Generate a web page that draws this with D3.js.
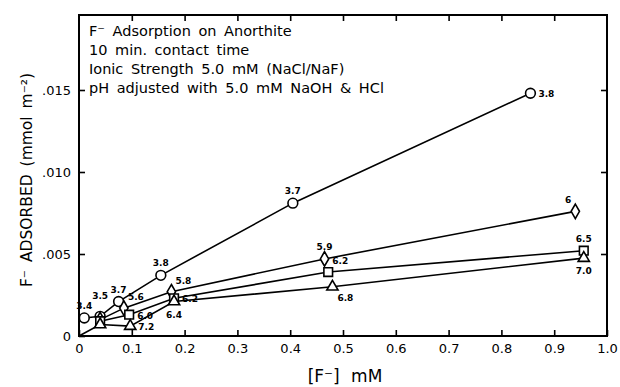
<!DOCTYPE html>
<html><head><meta charset="utf-8">
<script src="https://cdn.jsdelivr.net/npm/d3@7"></script>
<style>
body{margin:0;background:#fff;}
svg{display:block;font-family:"DejaVu Sans",Arial,sans-serif;}
</style></head>
<body><svg id="c" width="620" height="387"></svg>
<script>
// ---- data ----
const xTicks = [0,0.1,0.2,0.3,0.4,0.5,0.6,0.7,0.8,0.9,1.0];
const xTickLabels = ["0","0.1","0.2","0.3","0.4","0.5","0.6","0.7","0.8","0.9","1.0"];
const yTicks = [0,0.005,0.010,0.015];
const yTickLabels = ["0",".005",".010",".015"];

const circleX = [0.01,0.04,0.075,0.155,0.405,0.855];
const circleY = [0.0011,0.0012,0.0021,0.0037,0.0081,0.0148];
const circleLabels = ["3.4","3.5","3.7","3.8","3.7","3.8"];
const circlePos = ["n","nn","n","n","n","e"];
const circleMarked = [true,true,true,true,true,true];

const diamondX = [0.04,0.085,0.175,0.465,0.94];
const diamondY = [0.0010,0.0017,0.0027,0.0047,0.0076];
const diamondLabels = ["","5.6","5.8","5.9","6"];
const diamondPos = ["n","ne","ne","n","nw"];
const diamondMarked = [true,true,true,true,true];

const squareX = [0.04,0.095,0.18,0.472,0.956];
const squareY = [0.0009,0.0013,0.0023,0.0039,0.0052];
const squareLabels = ["","6.0","6.2","6.2","6.5"];
const squarePos = ["n","e","e","ne","n"];
const squareMarked = [true,true,true,true,true];

const triangleX = [0,0.04,0.097,0.18,0.48,0.956];
const triangleY = [0,0.0007,0.0006,0.0021,0.0030,0.00475];
const triangleLabels = ["","","7.2","6.4","6.8","7.0"];
const trianglePos = ["n","n","e","s","se","s"];
const triangleMarked = [false,true,true,true,true,true];

const noteLines = ["F\u207B Adsorption on Anorthite","10 min. contact time","Ionic Strength 5.0 mM (NaCl/NaF)","pH adjusted with 5.0 mM NaOH & HCl"];

// ---- layout ----
const svg = d3.select("#c");
const L=79, R=607, T=15, B=336;
const x = d3.scaleLinear().domain([0,1]).range([L,R]);
const y = d3.scaleLinear().domain([0,0.015]).range([B,90]);

const series = [
  {shape:"circle", xs:circleX, ys:circleY, labels:circleLabels, pos:circlePos, marked:circleMarked},
  {shape:"diamond", xs:diamondX, ys:diamondY, labels:diamondLabels, pos:diamondPos, marked:diamondMarked},
  {shape:"square", xs:squareX, ys:squareY, labels:squareLabels, pos:squarePos, marked:squareMarked},
  {shape:"triangle", xs:triangleX, ys:triangleY, labels:triangleLabels, pos:trianglePos, marked:triangleMarked}
];

// frame
svg.append("rect").attr("x",L).attr("y",T).attr("width",R-L).attr("height",B-T)
  .attr("fill","none").attr("stroke","#000").attr("stroke-width",2);

// axes (ticks inward)
const gx = svg.append("g").attr("transform",`translate(0,${B})`)
  .call(d3.axisBottom(x).tickValues(xTicks).tickSizeInner(-6).tickSizeOuter(0).tickPadding(8)
    .tickFormat((d,i)=>xTickLabels[i]));
const gxt = svg.append("g").attr("transform",`translate(0,${T})`)
  .call(d3.axisTop(x).tickValues(xTicks.slice(1,-1)).tickSizeInner(-6).tickSizeOuter(0).tickFormat(""));
const gy = svg.append("g").attr("transform",`translate(${L},0)`)
  .call(d3.axisLeft(y).tickValues(yTicks).tickSizeInner(-6).tickSizeOuter(0).tickPadding(8)
    .tickFormat((d,i)=>yTickLabels[i]));
const gyr = svg.append("g").attr("transform",`translate(${R},0)`)
  .call(d3.axisRight(y).tickValues(yTicks.slice(1)).tickSizeInner(-6).tickSizeOuter(0).tickFormat(""));
[gx,gxt,gy,gyr].forEach(g=>{
  g.select(".domain").remove();
  g.selectAll("line").attr("stroke","#000").attr("stroke-width",1.6);
  g.selectAll("text").attr("fill","#000").attr("font-size",13).attr("font-family","DejaVu Sans, Arial, sans-serif");
});

// lines
const line = d3.line().x(d=>x(d[0])).y(d=>y(d[1]));
series.forEach(s=>{
  const pts = s.xs.map((v,i)=>[v,s.ys[i]]);
  svg.append("path").attr("d",line(pts)).attr("fill","none").attr("stroke","#000").attr("stroke-width",1.6);
});

// markers
const sym = {circle:d3.symbolCircle, diamond:d3.symbolDiamond, square:d3.symbolSquare, triangle:d3.symbolTriangle};
const symSize = {circle:75, diamond:60, square:75, triangle:55};
series.forEach(s=>{
  s.xs.forEach((v,i)=>{
    if(!s.marked[i]) return;
    svg.append("path").attr("d",d3.symbol().type(sym[s.shape]).size(symSize[s.shape])())
      .attr("transform",`translate(${x(v)},${y(s.ys[i])})`)
      .attr("fill","#fff").attr("stroke","#000").attr("stroke-width",1.6);
  });
});

// point labels
const off = {n:[0,-9,"middle"],nn:[0,-17,"middle"],s:[0,16,"middle"],e:[8,4,"start"],w:[-8,4,"end"],
  ne:[4,-8,"start"],nw:[-4,-8,"end"],se:[5,14,"start"],sw:[-5,14,"end"]};
series.forEach(s=>{
  s.labels.forEach((lab,i)=>{
    if(!lab) return;
    const o = off[s.pos[i]];
    svg.append("text").attr("x",x(s.xs[i])+o[0]).attr("y",y(s.ys[i])+o[1])
      .attr("text-anchor",o[2]).attr("font-size",9).attr("font-weight","bold").text(lab);
  });
});

// notes
noteLines.forEach((t,i)=>{
  svg.append("text").attr("x",89).attr("y",36+i*19).attr("font-size",14.5)
    .attr("word-spacing",3).attr("fill","#000").text(t);
});

// axis titles
svg.append("text").attr("x",345).attr("y",382).attr("text-anchor","middle").attr("font-size",17)
  .attr("word-spacing",6).text("[F\u207B] mM");
svg.append("text").attr("transform","translate(32,180) rotate(-90)").attr("text-anchor","middle")
  .attr("font-size",15.5).attr("word-spacing",3).text("F\u207B ADSORBED (mmol m\u207B\u00B2)");
</script></body></html>
